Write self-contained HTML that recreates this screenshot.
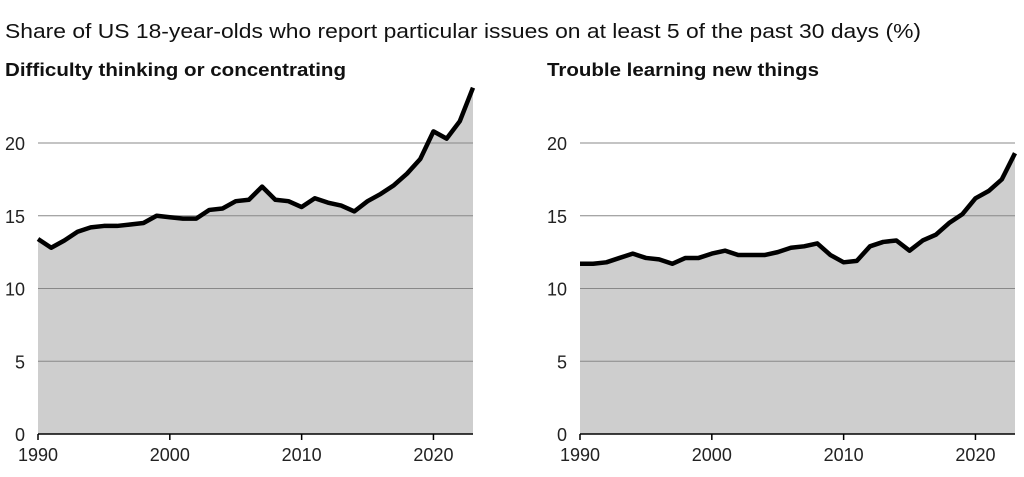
<!DOCTYPE html>
<html><head><meta charset="utf-8"><style>
body{margin:0;background:#fff;width:1024px;height:477px;overflow:hidden;font-family:"Liberation Sans",sans-serif}
svg{display:block}
</style></head><body>
<svg id="c" width="1024" height="477">
<text x="5" y="38" font-size="20" fill="#111" textLength="916" lengthAdjust="spacingAndGlyphs">Share of US 18-year-olds who report particular issues on at least 5 of the past 30 days (%)</text>
<text x="5" y="76" font-size="18" font-weight="bold" fill="#111" textLength="341" lengthAdjust="spacingAndGlyphs">Difficulty thinking or concentrating</text>
<text x="547" y="76" font-size="18" font-weight="bold" fill="#111" textLength="272" lengthAdjust="spacingAndGlyphs">Trouble learning new things</text>
</svg>
<script>
const years=[];for(let y=1990;y<=2023;y++)years.push(y);
const thinking=[13.4,12.8,13.3,13.9,14.2,14.3,14.3,14.4,14.5,15.0,14.9,14.8,14.8,15.4,15.5,16.0,16.1,17.0,16.1,16.0,15.6,16.2,15.9,15.7,15.3,16.0,16.5,17.1,17.9,18.9,20.8,20.3,21.5,23.8];
const learning=[11.7,11.7,11.8,12.1,12.4,12.1,12.0,11.7,12.1,12.1,12.4,12.6,12.3,12.3,12.3,12.5,12.8,12.9,13.1,12.3,11.8,11.9,12.9,13.2,13.3,12.6,13.3,13.7,14.5,15.1,16.2,16.7,17.5,19.3];
const yTicks=[0,5,10,15,20];
const xTicks=[1990,2000,2010,2020];
const svg=document.getElementById('c');const NS='http://www.w3.org/2000/svg';
function mk(t,a){const e=document.createElementNS(NS,t);for(const k in a)e.setAttribute(k,a[k]);svg.appendChild(e);return e;}
function panel(x0,x1,vals,name){
  const yb=434,yt=143;
  const X=y=>x0+(y-1990)*(x1-x0)/33;
  const Y=v=>yb-v*(yb-yt)/20;
  let d='M'+X(1990)+','+yb;years.forEach((y,i)=>d+='L'+X(y)+','+Y(vals[i]));d+='L'+X(2023)+','+yb+'Z';
  const a=mk('path',{d:d,fill:'#cecece'});
  
  
  yTicks.forEach(t=>{
    if(t>0){const l=mk('line',{x1:x0,x2:x1,y1:Y(t),y2:Y(t),stroke:'#888','stroke-width':1});
    
    }
    const tx=mk('text',{x:x0-13,y:Y(t)+7,'font-size':18,'text-anchor':'end',fill:'#222'});tx.textContent=t;
    
    
  });
  let p='';years.forEach((y,i)=>p+=(i?'L':'M')+X(y)+','+Y(vals[i]));
  const ln=mk('path',{d:p,fill:'none',stroke:'#000','stroke-width':4.5,'stroke-linejoin':'round'});
  
  
  const ax=mk('line',{x1:x0,x2:x1,y1:yb,y2:yb,stroke:'#000','stroke-width':1.5});
  
  
  xTicks.forEach(t=>{
    const tk=mk('line',{x1:X(t),x2:X(t),y1:yb,y2:yb+6,stroke:'#000','stroke-width':1.5});
    
    
    const tx=mk('text',{x:X(t),y:yb+27,'font-size':18,'text-anchor':'middle',fill:'#222'});tx.textContent=t;
    
    
  });
}
panel(38,473,thinking,'thinking');
panel(580,1015,learning,'learning');
</script>
</body></html>
